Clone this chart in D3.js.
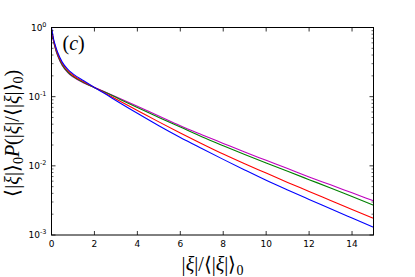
<!DOCTYPE html>
<html>
<head>
<meta charset="utf-8">
<script src="https://cdnjs.cloudflare.com/ajax/libs/d3/7.8.5/d3.min.js"></script>
<style>
  body { margin: 0; background: #fff; }
  .tick-label { font-family: "DejaVu Sans", sans-serif; font-size: 9px; fill: #000; }
  .math { font-family: "Liberation Serif", serif; fill: #000; }
</style>
</head>
<body>
<div id="chart"></div>
<script>
// sample positions along |xi|/<|xi|>_0
const xs = [0, 0.1, 0.2, 0.3, 0.5, 0.75, 1, 1.5, 2, 2.5, 3, 4, 5, 6, 7, 8, 9, 10, 11, 12, 13, 14, 15];

// <|xi|>_0 P(...)
const blueVals = [1.0, 0.676, 0.525, 0.427, 0.316, 0.251, 0.214, 0.170, 0.136, 0.110, 0.0881, 0.0575, 0.0380, 0.0257, 0.0178, 0.0124, 0.00871, 0.00617, 0.00447, 0.00327, 0.00240, 0.00176, 0.00129];
const redVals = [0.955, 0.646, 0.501, 0.407, 0.302, 0.240, 0.204, 0.164, 0.136, 0.112, 0.0923, 0.0631, 0.0432, 0.0299, 0.0209, 0.0148, 0.0107, 0.00785, 0.00575, 0.00427, 0.00316, 0.00234, 0.00174];
const greenVals = [0.933, 0.631, 0.479, 0.389, 0.288, 0.229, 0.197, 0.160, 0.135, 0.116, 0.0977, 0.0695, 0.0501, 0.0363, 0.0263, 0.0195, 0.0146, 0.0110, 0.00832, 0.00631, 0.00479, 0.00359, 0.00270];
const magentaVals = [0.912, 0.617, 0.468, 0.380, 0.282, 0.224, 0.193, 0.158, 0.136, 0.117, 0.100, 0.0724, 0.0525, 0.0380, 0.0282, 0.0211, 0.0158, 0.0120, 0.00912, 0.00692, 0.00531, 0.00407, 0.00312];

const seriesColors = ["#0000ff", "#ff0000", "#008000", "#bf00bf"];

const xTicks = [0, 2, 4, 6, 8, 10, 12, 14];
const yTickExps = [0, -1, -2, -3];

const W = 415, H = 277;
const margin = { top: 27.5, right: 41.5, bottom: 42, left: 51.5 };
const width = W - margin.left - margin.right;
const height = H - margin.top - margin.bottom;

const svg = d3.select("#chart").append("svg")
    .attr("width", W)
    .attr("height", H);

const g = svg.append("g")
    .attr("transform", "translate(" + margin.left + "," + margin.top + ")");

const x = d3.scaleLinear().domain([0, 15]).range([0, width]);
const y = d3.scaleLog().domain([1e-3, 1]).range([height, 0]);

// clip so the curves stay inside the frame
g.append("clipPath").attr("id", "clip")
  .append("rect").attr("width", width).attr("height", height);

const line = d3.line()
    .x(d => x(d[0]))
    .y(d => y(d[1]))
    .curve(d3.curveMonotoneX);

const allVals = [blueVals, redVals, greenVals, magentaVals];
// magenta first so blue sits on top near the origin
[3, 2, 1, 0].forEach(i => {
  g.append("path")
    .attr("clip-path", "url(#clip)")
    .attr("d", line(xs.map((v, j) => [v, allVals[i][j]])))
    .attr("fill", "none")
    .attr("stroke", seriesColors[i])
    .attr("stroke-width", 1.1);
});

// frame
g.append("rect")
    .attr("width", width)
    .attr("height", height)
    .attr("fill", "none")
    .attr("stroke", "#000")
    .attr("stroke-width", 1);

// x ticks, inward on bottom and top
xTicks.forEach(t => {
  const px = x(t);
  g.append("line").attr("x1", px).attr("x2", px).attr("y1", height).attr("y2", height - 4)
    .attr("stroke", "#000").attr("stroke-width", 0.8);
  g.append("line").attr("x1", px).attr("x2", px).attr("y1", 0).attr("y2", 4)
    .attr("stroke", "#000").attr("stroke-width", 0.8);
  g.append("text").attr("class", "tick-label")
    .attr("x", px).attr("y", height + 12)
    .attr("text-anchor", "middle")
    .text(t);
});

// y ticks: majors at decades, minors 2..9
const minor = [];
for (let e = -3; e < 0; e++) {
  for (let m = 2; m <= 9; m++) minor.push(m * Math.pow(10, e));
}
minor.forEach(v => {
  const py = y(v);
  g.append("line").attr("x1", 0).attr("x2", 2).attr("y1", py).attr("y2", py)
    .attr("stroke", "#000").attr("stroke-width", 0.6);
  g.append("line").attr("x1", width).attr("x2", width - 2).attr("y1", py).attr("y2", py)
    .attr("stroke", "#000").attr("stroke-width", 0.6);
});
yTickExps.forEach(e => {
  const py = y(Math.pow(10, e));
  g.append("line").attr("x1", 0).attr("x2", 4).attr("y1", py).attr("y2", py)
    .attr("stroke", "#000").attr("stroke-width", 0.8);
  g.append("line").attr("x1", width).attr("x2", width - 4).attr("y1", py).attr("y2", py)
    .attr("stroke", "#000").attr("stroke-width", 0.8);
  const lbl = g.append("text").attr("class", "tick-label")
    .attr("x", -5).attr("y", py + 3)
    .attr("text-anchor", "end");
  lbl.append("tspan").text("10");
  lbl.append("tspan").attr("dy", -4).attr("font-size", "6.5px").text(e);
});

// panel label
g.append("text").attr("class", "math")
    .attr("x", 11).attr("y", 22)
    .attr("font-size", "20px")
    .html('(<tspan font-style="italic">c</tspan>)');

// x label
const xl = svg.append("text").attr("class", "math")
    .attr("x", margin.left + width / 2).attr("y", 271)
    .attr("text-anchor", "middle")
    .attr("font-size", "20px");
xl.append("tspan").text("|");
xl.append("tspan").attr("font-style", "italic").text("ξ");
xl.append("tspan").text("|/⟨|");
xl.append("tspan").attr("font-style", "italic").text("ξ");
xl.append("tspan").text("|⟩");
xl.append("tspan").attr("dy", 4).attr("font-size", "14px").text("0");

// y label
const yl = svg.append("text").attr("class", "math")
    .attr("transform", "translate(19," + (margin.top + height / 2 + 2) + ") rotate(-90)")
    .attr("text-anchor", "middle")
    .attr("font-size", "20px");
yl.append("tspan").text("⟨|");
yl.append("tspan").attr("font-style", "italic").text("ξ");
yl.append("tspan").text("|⟩");
yl.append("tspan").attr("dy", 4).attr("font-size", "14px").text("0");
yl.append("tspan").attr("dy", -4).attr("font-style", "italic").text("P");
yl.append("tspan").text("(|");
yl.append("tspan").attr("font-style", "italic").text("ξ");
yl.append("tspan").text("|/⟨|");
yl.append("tspan").attr("font-style", "italic").text("ξ");
yl.append("tspan").text("|⟩");
yl.append("tspan").attr("dy", 4).attr("font-size", "14px").text("0");
yl.append("tspan").attr("dy", -4).text(")");
</script>
</body>
</html>
